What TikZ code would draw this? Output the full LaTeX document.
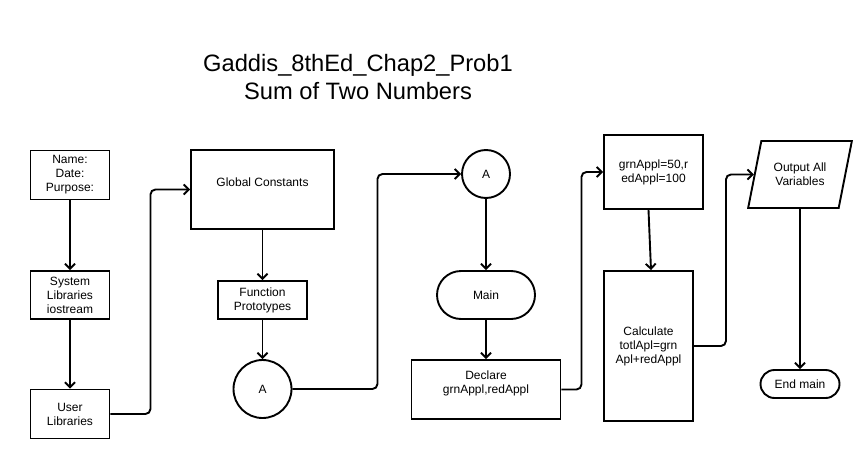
\documentclass[tikz,border=0pt]{standalone}
\usepackage{fontspec}
\setmainfont{Liberation Sans}
\usetikzlibrary{positioning}
\usetikzlibrary{arrows.meta}
\usetikzlibrary{shapes.geometric}

\begin{document}
\begin{tikzpicture}[
            x = 1pt, y = -1pt, % pixel units, y down
            > = {Straight Barb[length=5pt,width=10pt]}, % arrow head style
            line width = 1.9pt,
            font = \fontsize{12}{14}\selectfont,
            node distance = 120pt % distance between nodes
        ]

        \tikzstyle{block}=[
            draw,
            rectangle,
            align = center,
            inner sep = 2pt
        ]
        \tikzstyle{connector}=[
            draw,
            circle,
            inner sep = 0pt
        ]
        \tikzstyle{terminal}=[
            draw,
            rectangle,
            align = center
        ]
        \tikzstyle{io}=[
            draw,
            trapezium,
            trapezium left angle = 69.4,
            trapezium right angle = 110.6,
            trapezium stretches = true,
            align = center,
            inner sep = 1pt
        ]
        \tikzstyle{flow}=[->, rounded corners = 5pt]

        \useasboundingbox (0,0) rectangle (866,460);

        % title
        \node (title) at (358,77.4) [align=center, font=\fontsize{23.7}{28}\selectfont] {Gaddis\_8thEd\_Chap2\_Prob1\\Sum of Two Numbers};

        % header column
        \node[block, minimum width=79pt, minimum height=49pt] (name) at (70,175) {Name:\\Date:\\Purpose:};
        \node[block, minimum width=79pt, minimum height=48pt] (sys) [below of = name] {System\\Libraries\\iostream};
        \node[block, minimum width=79pt, minimum height=49pt] (user) [below of = sys, node distance = 119pt] {User\\Libraries};

        \path[->] (name) edge (sys);
        \path[->] (sys) edge (user);

        % globals and prototypes
        \node[block, minimum width=143pt, minimum height=79pt] (global) at (262.5,189.5) {Global Constants\\\mbox{}};
        \node[block, minimum width=89pt, minimum height=38pt] (func) [below of = global, node distance = 110.5pt] {Function\\Prototypes};
        \node[connector, minimum size=58pt] (A1) [below of = func, node distance = 89pt] {A};

        \draw[flow] (user.east) -- ++(40,0) |- (global.west);
        \path[->] (global) edge (func);
        \path[->] (func) edge (A1);

        % main
        \node[connector, minimum size=48pt] (A2) at (486,174) {A};
        \node[terminal, minimum width=98pt, minimum height=48pt, rounded corners=24pt] (main) [below of = A2, node distance = 121pt] {Main};
        \node[block, minimum width=149pt, minimum height=59pt] (declare) [below of = main, node distance = 94.5pt] {Declare\\grnAppl,redAppl\\\mbox{}};

        \draw[flow] (A1.east) -- ++(85,0) |- (A2.west);
        \path[->] (A2) edge (main);
        \path[->] (main) edge (declare);

        % processing
        \node[block, minimum width=99pt, minimum height=74pt] (init) at (653.5,172) {grnAppl=50,r\\edAppl=100};
        \node[block, minimum width=89pt, minimum height=150pt] (calc) at (648.5,346) {Calculate\\totlApl=grn\\Apl+redAppl};

        \draw[flow] (declare.east) -- ++(20,0) |- (init.west);
        \draw[->] ([xshift=-5pt]init.south) -- ([xshift=2.5pt]calc.north);

        % output
        \node[io, minimum width=104pt, minimum height=67pt] (output) at (800,174.5) {Output All\\Variables};
        \node[terminal, minimum width=79pt, minimum height=28pt, rounded corners=14pt] (endm) [below of = output, node distance = 209.5pt] {End main};

        \draw[flow] (calc.east) -- ++(32,0) |- (output.west);
        \draw[->] (output.south -| endm.north) -- (endm.north);

\end{tikzpicture}
\end{document}
